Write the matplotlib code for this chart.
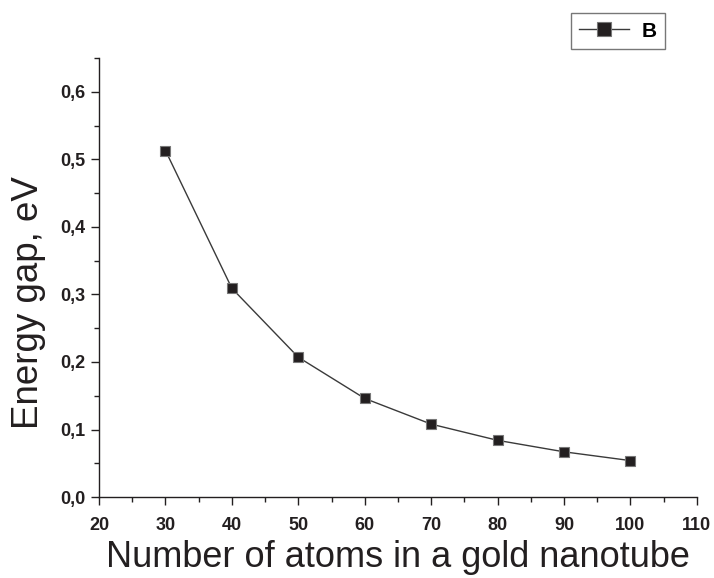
import matplotlib
matplotlib.use("Agg")
import matplotlib.pyplot as plt
from matplotlib.ticker import MultipleLocator, FuncFormatter

# data
atoms = [30, 40, 50, 60, 70, 80, 90, 100]
gap = [0.513, 0.309, 0.207, 0.146, 0.108, 0.084, 0.067, 0.054]
series_name = "B"

plt.rcParams['font.family'] = ['Liberation Sans', 'DejaVu Sans']
ink = '#231f20'

fig = plt.figure(figsize=(7.14, 5.78), dpi=100)
ax = fig.add_axes([0.1387, 0.140, 0.976 - 0.1387, 0.8997 - 0.140])

ax.plot(atoms, gap, color='#3a3a3a', lw=1.0, marker='s', ms=7.5,
        mfc=ink, mec='#777777', mew=0.8, label=series_name)

ax.set_xlim(20, 110)
ax.set_ylim(0, 0.65)
ax.xaxis.set_major_locator(MultipleLocator(10))
ax.xaxis.set_minor_locator(MultipleLocator(5))
ax.yaxis.set_major_locator(MultipleLocator(0.1))
ax.yaxis.set_minor_locator(MultipleLocator(0.05))
ax.yaxis.set_major_formatter(FuncFormatter(lambda v, p: f"{v:.1f}".replace('.', ',')))

for s in ['top', 'right']:
    ax.spines[s].set_visible(False)
for s in ['left', 'bottom']:
    ax.spines[s].set_color(ink)
    ax.spines[s].set_linewidth(1.0)

ax.tick_params(which='major', direction='out', length=6, width=1, colors=ink,
               labelsize=13)
ax.tick_params(axis='x', which='major', pad=8)
ax.tick_params(which='minor', direction='out', length=3.5, width=1, colors=ink)
for lbl in ax.get_xticklabels() + ax.get_yticklabels():
    lbl.set_fontweight('bold')

ax.set_xlabel("Number of atoms in a gold nanotube", fontsize=26, color=ink, labelpad=5)
ax.set_ylabel("Energy gap, eV", fontsize=26.5, color=ink)
ax.yaxis.set_label_coords(-0.088, 0.444)

leg = fig.legend(loc='upper right', bbox_to_anchor=(0.946, 0.995), frameon=True,
                 fancybox=False, edgecolor='#555555', handlelength=2.4,
                 borderpad=0.4, handletextpad=0.6, markerscale=1.3,
                 prop={'weight': 'bold', 'size': 15})
leg.get_frame().set_linewidth(1.0)

fig.savefig("out.png", dpi=100)
